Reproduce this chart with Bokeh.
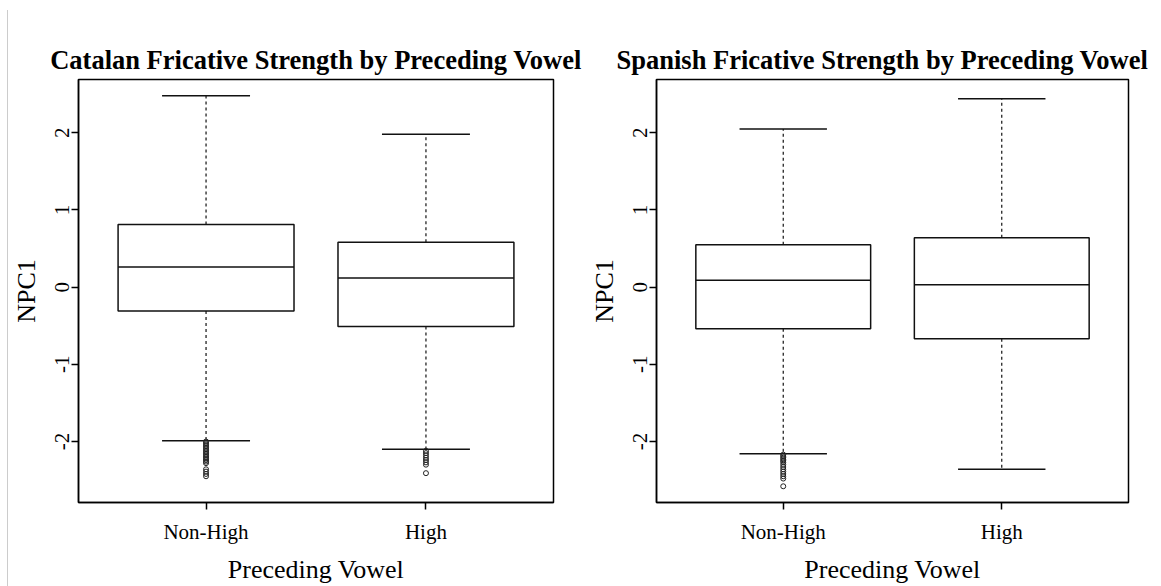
import numpy as np
from bokeh.plotting import figure
from bokeh.models import Range1d, FixedTicker, Div
from bokeh.layouts import row
from bokeh.embed import file_html
from bokeh.resources import INLINE

# ---------------- data ----------------
categories = ["Non-High", "High"]
y_ticks = [-2, -1, 0, 1, 2]
y_tick_labels = ["-2", "-1", "0", "1", "2"]

catalan_title = "Catalan Fricative Strength by Preceding Vowel"
catalan_q1 = [-0.31, -0.51]
catalan_median = [0.26, 0.12]
catalan_q3 = [0.81, 0.58]
catalan_lower = [-1.99, -2.10]
catalan_upper = [2.48, 1.98]
catalan_out_nonhigh = [-2.00, -2.02, -2.04, -2.06, -2.08, -2.10, -2.12, -2.14, -2.16,
                       -2.18, -2.20, -2.22, -2.24, -2.26, -2.28, -2.36, -2.39, -2.42, -2.45]
catalan_out_high = [-2.12, -2.15, -2.18, -2.21, -2.24, -2.27, -2.30, -2.41]

spanish_title = "Spanish Fricative Strength by Preceding Vowel"
spanish_q1 = [-0.54, -0.67]
spanish_median = [0.09, 0.03]
spanish_q3 = [0.55, 0.64]
spanish_lower = [-2.16, -2.36]
spanish_upper = [2.05, 2.44]
spanish_out_nonhigh = [-2.17, -2.19, -2.21, -2.23, -2.25, -2.27, -2.30, -2.33, -2.36,
                       -2.39, -2.42, -2.45, -2.48, -2.58]
spanish_out_high = []

x_label = "Preceding Vowel"
y_label = "NPC1"

SERIF = "Liberation Serif"


def make_panel(title, q1, med, q3, lo, hi, out_groups, width, bl, br, title_align, title_offset):
    n = len(categories)
    xs = np.arange(1, n + 1, dtype=float)
    pad = 0.04 * n
    p = figure(width=width, height=586, output_backend="svg", toolbar_location=None,
               x_range=Range1d(0.5 - pad, n + 0.5 + pad), y_range=Range1d(-2.79, 2.69),
               min_border_left=bl, min_border_right=br, min_border_top=79,
               min_border_bottom=81)
    p.background_fill_color = "white"
    p.border_fill_color = "white"
    p.outline_line_color = "black"
    p.outline_line_width = 1.5
    p.xgrid.visible = False
    p.ygrid.visible = False

    half_box = 0.4
    half_cap = 0.2
    lc = "#111111"
    p.quad(left=xs - half_box, right=xs + half_box, bottom=q1, top=q3,
           fill_color="white", line_color=lc, line_width=1.5)
    p.segment(x0=xs - half_box, x1=xs + half_box, y0=med, y1=med, line_color=lc, line_width=1.5)
    p.segment(x0=xs, x1=xs, y0=q3, y1=hi, line_color=lc, line_width=1.2, line_dash="3 3")
    p.segment(x0=xs, x1=xs, y0=q1, y1=lo, line_color=lc, line_width=1.2, line_dash="3 3")
    p.segment(x0=xs - half_cap, x1=xs + half_cap, y0=hi, y1=hi, line_color=lc, line_width=1.5)
    p.segment(x0=xs - half_cap, x1=xs + half_cap, y0=lo, y1=lo, line_color=lc, line_width=1.5)

    ox, oy = [], []
    for xi, grp in zip(xs, out_groups):
        ox.extend([xi] * len(grp))
        oy.extend(grp)
    if ox:
        p.scatter(x=ox, y=oy, marker="circle", size=5, fill_color=None,
                  line_color="#222222", line_width=1)

    p.title.text = title
    p.title.align = title_align
    p.title.offset = title_offset
    p.title.text_font = SERIF
    p.title.text_font_size = "26.5px"
    p.title.text_font_style = "bold"
    p.title.text_color = "black"

    p.xaxis.ticker = FixedTicker(ticks=list(xs))
    p.xaxis.major_label_overrides = {float(x): c for x, c in zip(xs, categories)}
    p.yaxis.ticker = FixedTicker(ticks=y_ticks)
    p.yaxis.major_label_overrides = {t: s for t, s in zip(y_ticks, y_tick_labels)}
    p.yaxis.major_label_orientation = "vertical"
    p.xaxis.axis_label = x_label
    p.yaxis.axis_label = y_label
    for ax in (p.xaxis, p.yaxis):
        ax.axis_line_color = "black"
        ax.axis_line_width = 1.5
        ax.major_tick_line_color = "black"
        ax.major_tick_line_width = 1.5
        ax.major_tick_out = 7
        ax.major_tick_in = 0
        ax.minor_tick_out = 0
        ax.minor_tick_in = 0
        ax.major_label_text_font = SERIF
        ax.major_label_text_font_size = "21px"
        ax.major_label_text_color = "black"
        ax.axis_label_text_font = SERIF
        ax.axis_label_text_font_size = "26px"
        ax.axis_label_text_font_style = "normal"
        ax.axis_label_text_color = "black"
    p.xaxis.major_label_standoff = 10
    p.xaxis.axis_label_standoff = 8
    p.yaxis.major_label_standoff = 2
    p.yaxis.axis_label_standoff = 12
    return p


p1 = make_panel(catalan_title, catalan_q1, catalan_median, catalan_q3, catalan_lower,
                catalan_upper, [catalan_out_nonhigh, catalan_out_high], 578, 70, 33,
                "center", 0)
p2 = make_panel(spanish_title, spanish_q1, spanish_median, spanish_q3, spanish_lower,
                spanish_upper, [spanish_out_nonhigh, spanish_out_high], 575, 69, 33,
                "left", -40)

edge = Div(text="", width=8, height=576, margin=(10, 0, 0, 0),
           styles={"border-right": "1px solid #cccccc", "box-sizing": "border-box"})

layout = row(edge, p1, p2, spacing=0)
open("out.html", "w").write(file_html(layout, INLINE))
